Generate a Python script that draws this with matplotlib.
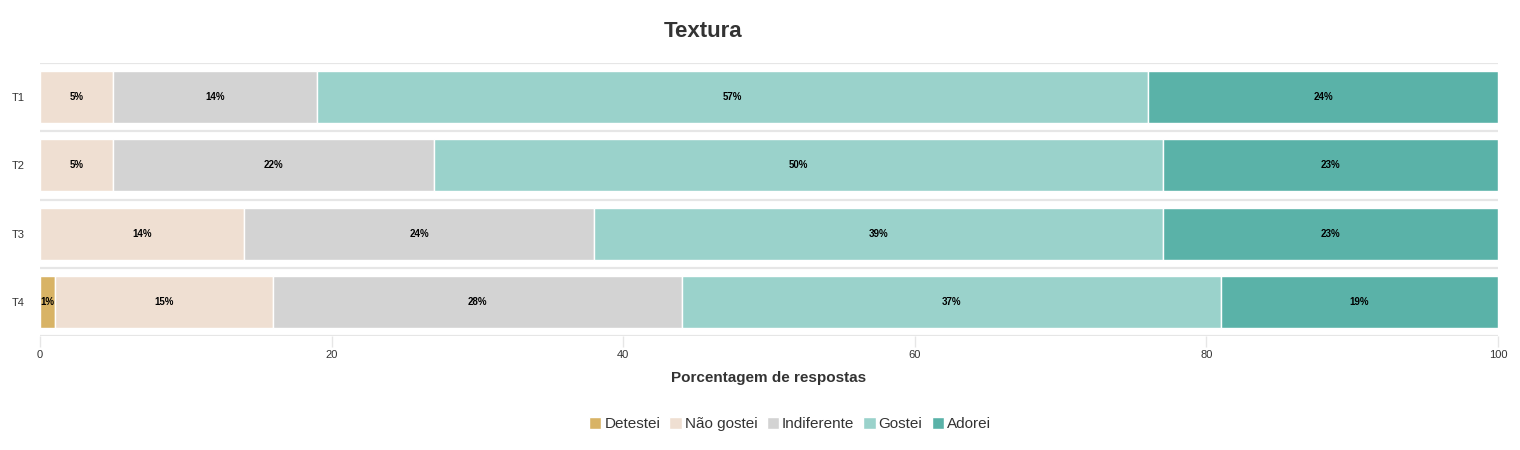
import numpy as np
import matplotlib.pyplot as plt

plt.rcParams['font.family'] = ['Liberation Sans', 'DejaVu Sans']

# data
tratamentos = ["T1", "T2", "T3", "T4"]
categorias = ["Detestei", "Não gostei", "Indiferente", "Gostei", "Adorei"]
detestei = [0, 0, 0, 1]
nao_gostei = [5, 5, 14, 15]
indiferente = [14, 22, 24, 28]
gostei = [57, 50, 39, 37]
adorei = [24, 23, 23, 19]
cores = ["#d8b365", "#efdfd2", "#d3d3d3", "#9ad2cb", "#5ab2a8"]
x_ticks = [0, 20, 40, 60, 80, 100]

series = [detestei, nao_gostei, indiferente, gostei, adorei]

fig = plt.figure(figsize=(15.2, 4.5), dpi=100)
ax = fig.add_axes([40 / 1520, 1 - 336 / 450, 1458 / 1520, 273 / 450])

y = np.arange(len(tratamentos))
left = np.zeros(len(tratamentos))
handles = []
for nome, vals, cor in zip(categorias, series, cores):
    vals = np.array(vals, dtype=float)
    b = ax.barh(y, vals, left=left, height=0.765, color=cor,
                edgecolor="white", linewidth=1, label=nome, zorder=3)
    handles.append(b)
    for yi, v, l in zip(y, vals, left):
        if v > 0:
            ax.text(l + v / 2, yi, f"{v:.0f}%", ha="center", va="center",
                    fontsize=7, fontweight="bold", color="black", zorder=4)
    left += vals

ax.set_xlim(0, 100)
ax.set_ylim(3.5, -0.5)
ax.set_yticks(y)
ax.set_yticklabels(tratamentos)
ax.set_xticks(x_ticks)
ax.set_xticklabels([str(t) for t in x_ticks])

# band separators
for yb in np.arange(-0.5, len(tratamentos) + 0.5, 1):
    ax.axhline(yb, color="#e6e6e6", linewidth=1.6, zorder=1)

for s in ax.spines.values():
    s.set_visible(False)

ax.tick_params(axis="y", length=0, labelsize=8, labelcolor="#333333", pad=11)
ax.tick_params(axis="x", length=8, width=1, color="#e6e6e6",
               labelsize=8, labelcolor="#333333", pad=2)

ax.set_title("Textura", fontsize=16, fontweight="bold", color="#333333",
             pad=19, x=0.455)
ax.set_xlabel("Porcentagem de respostas", fontsize=11, fontweight="bold",
              color="#333333", labelpad=8)

fig.legend(handles=handles, labels=categorias, loc="center",
           bbox_to_anchor=(790 / 1520, 1 - 424 / 450), ncol=5, frameon=False,
           fontsize=11, handlelength=0.8, handleheight=0.8, handletextpad=0.2,
           columnspacing=0.6, labelcolor="#333333")

fig.savefig("out.png", dpi=100)
